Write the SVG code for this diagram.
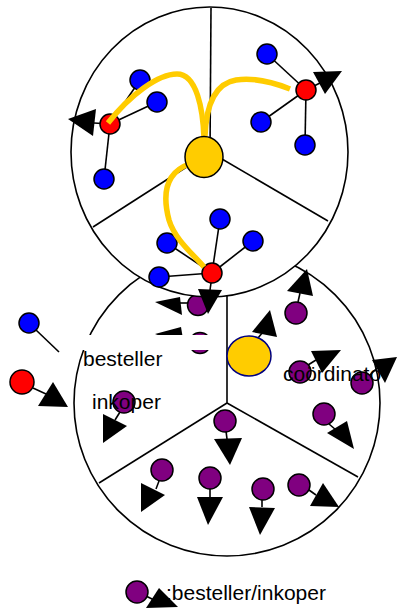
<svg xmlns="http://www.w3.org/2000/svg" width="397" height="615" viewBox="0 0 397 615">
<style>
.ring{fill:#fff;stroke:#000;stroke-width:1.6}
.div{stroke:#000;stroke-width:1.6;fill:none}
.ln{stroke:#000;stroke-width:1.6;fill:none}
.ah{fill:#000;stroke:none}
.blue{fill:#0000ff;stroke:#000;stroke-width:1.5}
.red{fill:#ff0000;stroke:#000;stroke-width:1.5}
.pur{fill:#800080;stroke:#000;stroke-width:1.5}
.gold{fill:#ffcc00;stroke:#000;stroke-width:1.5}
.flow{stroke:#ffcc00;stroke-width:5.5;fill:none}
.lbl{font-family:"Liberation Sans",Arial,sans-serif;font-size:21px;fill:#000}
</style>

<!-- bottom ring -->
<g id="ring-bottom">
<circle class="ring" cx="227" cy="403" r="153"/>
<line class="div" x1="227" y1="403" x2="227" y2="250"/>
<line class="div" x1="227" y1="403" x2="99" y2="483"/>
<line class="div" x1="227" y1="403" x2="358" y2="477"/>
</g>

<g id="connectors-bottom">
<line class="ln" x1="188" y1="303" x2="180" y2="303"/>
<polygon class="ah" points="180,297 182,315 155,302"/>
<polygon class="ah" points="181,327 184,345 155,334"/>
<line class="ln" x1="258" y1="338" x2="263" y2="332"/>
<polygon class="ah" points="252,332 277,337 270,310"/>
<line class="ln" x1="298" y1="302" x2="300" y2="293"/>
<polygon class="ah" points="287,291 313,296 307,269"/>
<line class="ln" x1="308" y1="365" x2="316" y2="360"/>
<polygon class="ah" points="311,351 341,350 322,373"/>
<line class="ln" x1="370" y1="375" x2="377" y2="368"/>
<polygon class="ah" points="372,360 397,357 385,383"/>
<line class="ln" x1="329" y1="424" x2="336" y2="430"/>
<polygon class="ah" points="327,433 347,421 354,449"/>
<line class="ln" x1="226" y1="431" x2="227" y2="439"/>
<polygon class="ah" points="214,439 242,438 230,465"/>
<line class="ln" x1="159" y1="481" x2="156" y2="489"/>
<polygon class="ah" points="141,483 165,495 141,512"/>
<line class="ln" x1="210" y1="489" x2="210" y2="497"/>
<polygon class="ah" points="197,497 223,497 208,525"/>
<line class="ln" x1="262" y1="500" x2="262" y2="507"/>
<polygon class="ah" points="249,507 275,508 260,535"/>
<line class="ln" x1="309" y1="490" x2="316" y2="495"/>
<polygon class="ah" points="310,506 323,483 339,507"/>
<line class="ln" x1="120" y1="412" x2="115" y2="420"/>
<polygon class="ah" points="103,414 127,426 103,443"/>
</g>

<g id="members-bottom">
<circle id="m1" class="pur" cx="198" cy="305" r="10.5"/>
<circle id="m2" class="pur" cx="200" cy="343" r="10.5"/>
<circle id="m3" class="pur" cx="296" cy="313" r="11"/>
<circle id="m4" class="pur" cx="300" cy="372" r="11"/>
<circle id="m5" class="pur" cx="362" cy="383" r="11"/>
<circle id="m6" class="pur" cx="324" cy="414" r="11"/>
<circle id="m7" class="pur" cx="225" cy="421" r="11"/>
<circle id="m8" class="pur" cx="162" cy="470" r="11"/>
<circle id="m9" class="pur" cx="210" cy="478" r="11"/>
<circle id="m10" class="pur" cx="263" cy="489" r="11"/>
<circle id="m11" class="pur" cx="299" cy="485" r="11"/>
<circle id="m12" class="pur" cx="124" cy="402" r="11"/>
</g>
<g id="coordinator-bottom">
<ellipse cx="249" cy="356" rx="22" ry="20" fill="#ffcc00" stroke="#000080" stroke-width="1.5"/>
</g>

<!-- top ring -->
<g id="ring-top">
<ellipse class="ring" cx="209.5" cy="152" rx="138.5" ry="145"/>
<line class="div" x1="210" y1="152" x2="211" y2="8"/>
<line class="div" x1="210" y1="152" x2="93" y2="227"/>
<line class="div" x1="210" y1="152" x2="328" y2="221"/>
</g>

<g id="connectors-top">
<line class="ln" x1="110" y1="124" x2="140" y2="80"/>
<line class="ln" x1="110" y1="124" x2="157" y2="102"/>
<line class="ln" x1="110" y1="124" x2="104" y2="179"/>
<line class="ln" x1="110" y1="124" x2="94" y2="123"/>
<polygon class="ah" points="96,109 93,136 68,119"/>
<line class="ln" x1="306" y1="90" x2="267" y2="54"/>
<line class="ln" x1="306" y1="90" x2="261" y2="122"/>
<line class="ln" x1="306" y1="90" x2="305" y2="145"/>
<line class="ln" x1="306" y1="90" x2="320" y2="83"/>
<polygon class="ah" points="313,72 325,94 342,71"/>
<line class="ln" x1="212" y1="273" x2="220" y2="219"/>
<line class="ln" x1="212" y1="273" x2="167" y2="243"/>
<line class="ln" x1="212" y1="273" x2="253" y2="241"/>
<line class="ln" x1="212" y1="273" x2="159" y2="277"/>
</g>

<g id="nodes-top">
<circle id="b1" class="blue" cx="140" cy="80" r="10"/>
<circle id="b2" class="blue" cx="157" cy="102" r="10"/>
<circle id="b3" class="blue" cx="104" cy="179" r="10"/>
<circle id="b4" class="blue" cx="267" cy="54" r="10"/>
<circle id="b5" class="blue" cx="261" cy="122" r="10"/>
<circle id="b6" class="blue" cx="305" cy="145" r="10"/>
<circle id="b7" class="blue" cx="220" cy="219" r="10"/>
<circle id="b8" class="blue" cx="167" cy="243" r="10"/>
<circle id="b9" class="blue" cx="253" cy="241" r="10"/>
<circle id="b10" class="blue" cx="159" cy="277" r="10"/>
<circle id="r1" class="red" cx="110" cy="124" r="10"/>
<circle id="r2" class="red" cx="306" cy="90" r="10"/>
<circle id="r3" class="red" cx="212" cy="273" r="10"/>
</g>

<g id="flows">
<path class="flow" d="M204,138 C203,110 197,74 177,74 C158,74 130,95 108,123"/>
<path class="flow" d="M205,136 C206,110 212,84 236,80 C256,77 275,83 290,89"/>
<path class="flow" d="M189,164 C168,172 161,190 169,220 C175,240 194,255 204,267"/>
</g>
<g id="coordinator-top">
<ellipse class="gold" cx="204" cy="157" rx="19" ry="20.5"/>
</g>
<g id="arrow-red-bottom">
<line class="ln" x1="211" y1="283" x2="210" y2="290"/>
<polygon class="ah" points="198,289 222,290 208,314"/>
</g>

<rect x="58" y="335" width="164" height="15" fill="#fff"/>

<g id="outside">
<line class="ln" x1="36" y1="330" x2="59" y2="352"/>
<circle id="b-out" class="blue" cx="29" cy="323" r="10"/>
<line class="ln" x1="33" y1="388" x2="46" y2="394"/>
<polygon class="ah" points="53,382 38,406 68,407"/>
<circle id="r-out" class="red" cx="22" cy="382" r="12"/>
</g>

<g id="labels">
<text class="lbl" x="83" y="366">besteller</text>
<text class="lbl" x="92" y="409">inkoper</text>
<text class="lbl" x="283" y="381">coördinato</text>
</g>

<g id="legend">
<line class="ln" x1="146" y1="596" x2="154" y2="600"/>
<circle class="pur" cx="137" cy="592" r="11"/>
<polygon class="ah" points="159,588 146,608 178,607"/>
<text class="lbl" x="166" y="600">:besteller/inkoper</text>
</g>
</svg>
